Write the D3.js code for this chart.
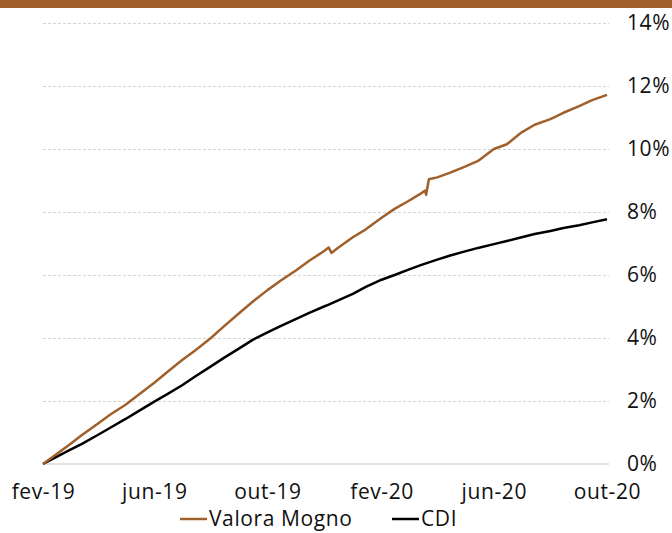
<!DOCTYPE html>
<meta charset="utf-8">

<!-- Load d3.js -->
<script src="https://d3js.org/d3.v7.min.js"></script>

<style>
  body { margin: 0; background: #fff; }
  text { font-family: "Open Sans", "Noto Sans", sans-serif; fill: #111; letter-spacing: 0.6px; }
</style>

<!-- Create a div where the graph will take place -->
<div id="my_dataviz"></div>

<script>

    // dates of the readings (semi-monthly, plus the days around the two jumps)
    var dates = [
      "2019-02-01","2019-02-15","2019-03-01","2019-03-15","2019-04-01","2019-04-15",
      "2019-05-01","2019-05-15","2019-06-01","2019-06-15","2019-07-01","2019-07-15",
      "2019-08-01","2019-08-15","2019-09-01","2019-09-15","2019-10-01","2019-10-15",
      "2019-11-01","2019-11-15","2019-12-01","2019-12-06","2019-12-09","2019-12-15",
      "2020-01-01","2020-01-15","2020-02-01","2020-02-15","2020-03-01","2020-03-15",
      "2020-03-19","2020-03-20","2020-03-23","2020-04-01","2020-04-15","2020-05-01",
      "2020-05-15","2020-06-01","2020-06-15","2020-07-01","2020-07-15","2020-08-01",
      "2020-08-15","2020-09-01","2020-09-15","2020-10-01"
    ];

    // cumulative return, in %
    var mogno = [
      0, 0.30, 0.60, 0.92, 1.28, 1.58,
      1.88, 2.20, 2.58, 2.92, 3.30, 3.60,
      4.00, 4.37, 4.80, 5.15, 5.52, 5.82,
      6.15, 6.45, 6.76, 6.87, 6.70, 6.84,
      7.20, 7.45, 7.82, 8.10, 8.35, 8.60,
      8.68, 8.55, 9.04, 9.10, 9.25, 9.44,
      9.62, 10.00, 10.15, 10.53, 10.77, 10.95,
      11.15, 11.36, 11.55, 11.72
    ];

    var cdi = [
      0, 0.22, 0.43, 0.64, 0.92, 1.16,
      1.43, 1.68, 1.98, 2.22, 2.50, 2.78,
      3.10, 3.37, 3.68, 3.94, 4.18, 4.38,
      4.61, 4.80, 5.00, 5.06, 5.10, 5.18,
      5.40, 5.62, 5.85, 6.00, 6.17, 6.32,
      6.36, 6.37, 6.40, 6.49, 6.62, 6.75,
      6.86, 6.98, 7.08, 7.20, 7.30, 7.40,
      7.49, 7.58, 7.67, 7.77
    ];

    var xTickDates = ["2019-02-01","2019-06-01","2019-10-01","2020-02-01","2020-06-01","2020-10-01"];
    var xTickLabels = ["fev-19","jun-19","out-19","fev-20","jun-20","out-20"];
    var yTicks = [0, 2, 4, 6, 8, 10, 12, 14];

    var seriesNames = ["Valora Mogno", "CDI"];
    var seriesColors = ["#a0602b", "#000000"];

    var W = 672, H = 533;
    var margin = {top: 23, right: 65, bottom: 69, left: 43};

    var parse = d3.timeParse("%Y-%m-%d");

    var svg = d3.select("#my_dataviz")
      .append("svg")
        .attr("width", W)
        .attr("height", H);

    // brown band on top
    svg.append("rect")
      .attr("x", 0).attr("y", 0)
      .attr("width", W).attr("height", 8)
      .attr("fill", "#a0602b");

    var x = d3.scaleTime()
      .domain([parse(dates[0]), parse("2020-10-01")])
      .range([margin.left, 607]);

    var y = d3.scaleLinear()
      .domain([0, 14])
      .range([H - margin.bottom, margin.top]);

    // dashed gridlines
    svg.append("g")
      .attr("transform", "translate(" + margin.left + ",0)")
      .call(d3.axisLeft(y).tickValues(yTicks.slice(1)).tickSize(-(609 - margin.left)).tickFormat(""))
      .call(function(g) { g.select(".domain").remove(); })
      .selectAll("line")
        .attr("stroke", "#d4d4d4")
        .attr("stroke-dasharray", "3,2");

    // zero line
    svg.append("line")
      .attr("x1", margin.left).attr("x2", 609)
      .attr("y1", y(0)).attr("y2", y(0))
      .attr("stroke", "#d9d9d9")
      .attr("stroke-width", 1.5);

    // Y labels on the right
    svg.append("g")
      .attr("transform", "translate(627,0)")
      .call(d3.axisRight(y).tickValues(yTicks).tickSize(0).tickPadding(0).tickFormat(function(d) { return d + "%"; }))
      .call(function(g) { g.select(".domain").remove(); })
      .selectAll("text")
        .style("font-size", "21px")
        .attr("text-anchor", "start");

    // X labels
    svg.append("g")
      .attr("transform", "translate(0," + (y(0) + 17) + ")")
      .call(d3.axisBottom(x).tickValues(xTickDates.map(parse)).tickSize(0)
        .tickFormat(function(d, i) { return xTickLabels[i]; }))
      .call(function(g) { g.select(".domain").remove(); })
      .selectAll("text")
        .style("font-size", "21px");

    // lines
    var rows = dates.map(function(d, i) { return {date: parse(d), v: [mogno[i], cdi[i]]}; });

    [1, 0].forEach(function(k) {
      svg.append("path")
        .datum(rows)
        .attr("fill", "none")
        .attr("stroke", seriesColors[k])
        .attr("stroke-width", 2.5)
        .attr("stroke-linejoin", "round")
        .attr("d", d3.line()
          .x(function(d) { return x(d.date); })
          .y(function(d) { return y(d.v[k]); }));
    });

    // legend
    var legX = [180, 392];
    seriesNames.forEach(function(name, i) {
      var g = svg.append("g").attr("transform", "translate(" + legX[i] + ",519)");
      g.append("line")
        .attr("x1", 0).attr("x2", 27)
        .attr("stroke", seriesColors[i])
        .attr("stroke-width", 2.5);
      g.append("text")
        .attr("x", 29)
        .attr("dy", "0.35em")
        .style("font-size", "21px")
        .text(name);
    });

</script>
